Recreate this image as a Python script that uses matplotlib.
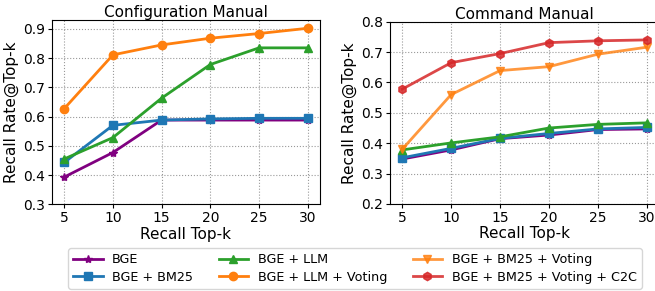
import matplotlib
matplotlib.use("Agg")
import matplotlib.pyplot as plt

k = [5, 10, 15, 20, 25, 30]

# Configuration Manual
cfg_bge = [0.393, 0.477, 0.588, 0.588, 0.588, 0.588]
cfg_bge_bm25 = [0.443, 0.570, 0.588, 0.592, 0.594, 0.594]
cfg_bge_llm = [0.455, 0.528, 0.663, 0.778, 0.835, 0.835]
cfg_bge_llm_voting = [0.627, 0.811, 0.845, 0.868, 0.884, 0.902]

# Command Manual
cmd_bge = [0.348, 0.378, 0.415, 0.427, 0.445, 0.447]
cmd_bge_bm25 = [0.352, 0.383, 0.416, 0.432, 0.447, 0.452]
cmd_bge_llm = [0.378, 0.401, 0.421, 0.450, 0.462, 0.467]
cmd_bge_bm25_voting = [0.380, 0.560, 0.639, 0.652, 0.693, 0.716]
cmd_c2c = [0.578, 0.665, 0.695, 0.731, 0.737, 0.740]

titles = ["Configuration Manual", "Command Manual"]

fig = plt.figure(figsize=(6.55, 2.91), dpi=100)
ax1 = fig.add_axes([0.0794, 0.298, 0.409, 0.633])
ax2 = fig.add_axes([0.5954, 0.299, 0.4107, 0.6265])

lw = 2.0
ms = 6
h = {}
h['BGE'], = ax1.plot(k, cfg_bge, color='purple', marker='*', lw=lw, ms=ms)
h['BGE + BM25'], = ax1.plot(k, cfg_bge_bm25, color='#1f77b4', marker='s', lw=lw, ms=ms)
h['BGE + LLM'], = ax1.plot(k, cfg_bge_llm, color='#2ca02c', marker='^', lw=lw, ms=ms)
h['BGE + LLM + Voting'], = ax1.plot(k, cfg_bge_llm_voting, color='#ff7f0e', marker='o', lw=lw, ms=ms)

ax2.plot(k, cmd_bge, color='purple', marker='*', lw=lw, ms=ms)
ax2.plot(k, cmd_bge_bm25, color='#1f77b4', marker='s', lw=lw, ms=ms)
ax2.plot(k, cmd_bge_llm, color='#2ca02c', marker='^', lw=lw, ms=ms)
h['BGE + BM25 + Voting'], = ax2.plot(k, cmd_bge_bm25_voting, color='#ff7f0e', alpha=0.8, marker='v', lw=lw, ms=ms)
h['BGE + BM25 + Voting + C2C'], = ax2.plot(k, cmd_c2c, color='#d62728', alpha=0.85, marker='h', lw=lw, ms=ms)

for ax, t in zip([ax1, ax2], titles):
    ax.set_title(t, fontsize=11, pad=1)
    ax.set_xlabel("Recall Top-k", fontsize=11, labelpad=1)
    ax.set_ylabel("Recall Rate@Top-k", fontsize=11, labelpad=3)
    ax.set_xticks(k)
    ax.tick_params(labelsize=10, pad=2, length=3)
    ax.grid(True, linestyle=':', color='gray', alpha=0.8)

ax1.set_ylim(0.3, 0.93)
ax1.set_yticks([0.3, 0.4, 0.5, 0.6, 0.7, 0.8, 0.9])
ax2.set_ylim(0.2, 0.8)
ax2.set_yticks([0.2, 0.3, 0.4, 0.5, 0.6, 0.7, 0.8])

order = ['BGE', 'BGE + BM25', 'BGE + LLM', 'BGE + LLM + Voting',
         'BGE + BM25 + Voting', 'BGE + BM25 + Voting + C2C']
fig.legend([h[o] for o in order], order, ncol=3, loc='lower center',
           bbox_to_anchor=(0.5417, 2 / 291), fontsize=9.2, handlelength=2.3,
           handletextpad=0.75, columnspacing=2.0, borderaxespad=0.0,
           labelspacing=0.35)

fig.savefig("out.png", dpi=100)
